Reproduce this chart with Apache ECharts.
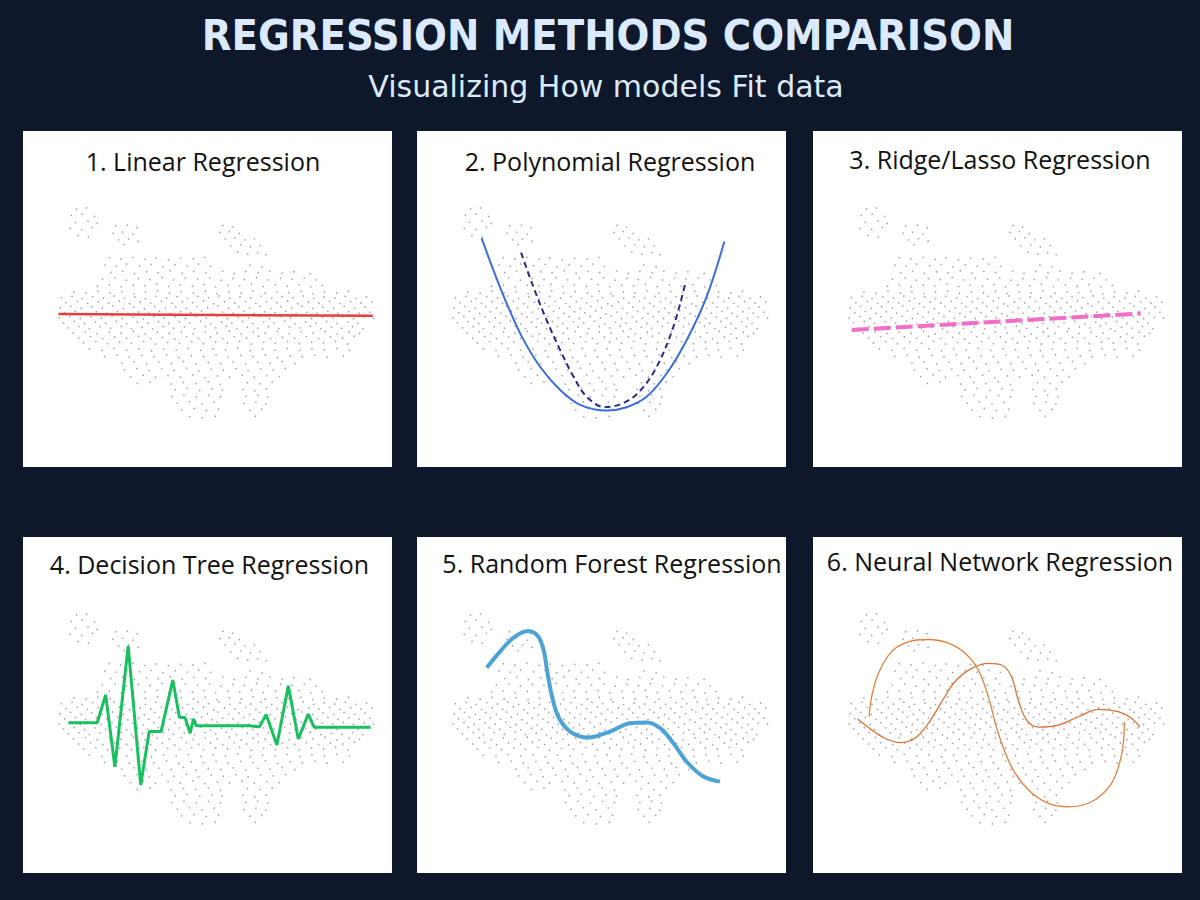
<!DOCTYPE html>
<html>
<head>
<meta charset="utf-8">
<title>Regression Methods Comparison</title>
<script src="https://cdn.jsdelivr.net/npm/echarts@6/dist/echarts.min.js"></script>
<style>
  html, body { margin: 0; padding: 0; background: #0f172a; }
  #main { width: 1200px; height: 900px; }
</style>
</head>
<body>
<div id="main"></div>
<script>
// titles of the six small panels
const panelTitles = [
  '1. Linear Regression',
  '2. Polynomial Regression',
  '3. Ridge/Lasso Regression',
  '4. Decision Tree Regression',
  '5. Random Forest Regression',
  '6. Neural Network Regression'
]

// the noisy samples (x, y in 0..100 panel units), same cloud in every panel
const cloud = [
  [14.5,76.8],[17.2,77.1],[13.1,74.9],[16.0,75.3],[19.4,74.6],[14.2,72.8],[17.6,73.2],[20.1,72.5],[12.8,71.0],[15.9,70.7],[18.8,71.3],[14.9,68.9],[17.7,68.4],
  [25.1,71.8],[28.3,72.0],[30.9,71.2],[24.4,69.6],[27.0,69.9],[29.8,69.3],[25.9,67.6],[28.6,67.9],[31.2,67.2],[27.4,66.2],
  [54.2,71.9],[56.8,71.4],[53.4,69.8],[55.9,70.1],[58.6,69.5],[54.8,67.9],[57.4,68.2],[60.1,67.6],[62.7,67.9],[56.3,65.8],[59.0,66.1],[61.6,65.5],[64.3,65.9],[58.2,63.9],[60.9,63.4],[63.6,63.8],[65.9,63.2],
  [23.4,62.3],[26.5,61.9],[29.8,62.4],[33.1,61.8],[36.0,62.2],[39.4,61.7],[42.7,62.1],[46.1,61.9],[49.3,62.4],
  [22.2,60.1],[25.3,59.8],[28.1,60.4],[31.6,59.9],[34.7,60.3],[37.9,59.6],[41.2,60.2],[44.5,59.8],[47.6,60.4],[50.8,59.7],[61.5,60.1],[64.8,59.6],
  [23.8,57.9],[27.0,58.3],[30.2,57.6],[33.5,58.1],[36.6,57.8],[39.9,58.4],[43.1,57.7],[46.3,58.2],[49.5,57.9],[54.1,58.3],[57.2,57.6],[60.4,58.2],[63.7,57.8],[66.9,58.3],[70.2,57.7],[73.4,58.1],[77.8,57.6],
  [21.5,55.9],[24.9,56.3],[28.0,55.6],[31.3,56.1],[34.4,55.8],[37.7,56.4],[40.8,55.7],[44.0,56.2],[47.3,55.9],[50.6,56.3],[53.7,55.6],[56.9,56.1],[60.0,55.8],[63.3,56.4],[66.5,55.7],[69.8,56.2],[72.9,55.9],[76.2,56.3],[79.4,55.7],
  [20.2,53.8],[23.4,54.2],[26.6,53.6],[29.9,54.1],[33.0,53.9],[36.3,54.4],[39.5,53.7],[42.6,54.2],[45.9,53.8],[49.1,54.3],[52.2,53.6],[55.5,54.1],[58.7,53.9],[61.9,54.4],[65.1,53.7],[68.4,54.2],[71.6,53.8],[74.8,54.3],[78.0,53.6],[81.1,54.0],
  [13.8,52.1],[17.1,51.7],[20.3,52.3],[23.6,51.8],[26.8,52.2],[30.1,51.6],[33.2,52.0],[36.5,52.4],[39.7,51.7],[42.9,52.2],[46.2,51.8],[49.4,52.3],[52.6,51.6],[55.9,52.1],[59.1,51.8],[62.3,52.4],[65.6,51.7],[68.8,52.2],[72.0,51.9],[75.3,52.3],[78.5,51.6],[81.7,52.1],[85.0,51.8],[88.2,52.3],
  [10.4,50.4],[13.3,50.8],[16.0,50.2],[18.9,50.7],[21.8,50.3],[24.6,50.9],[27.5,50.2],[30.3,50.6],[33.2,50.1],[36.0,50.8],[38.9,50.3],[41.7,50.7],[44.6,50.2],[47.4,50.8],[50.3,50.4],[53.1,50.9],[56.0,50.2],[58.8,50.6],[61.7,50.3],[64.5,50.8],[67.4,50.2],[70.2,50.7],[73.1,50.4],[75.9,50.9],[78.8,50.2],[81.6,50.6],[84.5,50.3],[87.3,50.8],[90.2,50.2],[93.1,50.6],
  [11.6,48.9],[14.7,49.3],[17.5,48.7],[20.4,49.2],[23.2,48.8],[26.1,49.4],[28.9,48.6],[31.8,49.1],[34.6,48.8],[37.5,49.3],[40.3,48.7],[43.2,49.2],[46.0,48.9],[48.9,49.4],[51.7,48.6],[54.6,49.1],[57.4,48.8],[60.3,49.3],[63.1,48.7],[66.0,49.2],[68.8,48.9],[71.7,49.4],[74.5,48.6],[77.4,49.1],[80.2,48.8],[83.1,49.3],[85.9,48.7],[88.8,49.2],[91.6,48.8],[94.5,49.1],
  [10.1,47.4],[12.9,47.8],[15.8,47.2],[18.6,47.7],[21.5,47.3],[24.3,47.9],[27.2,47.2],[30.0,47.6],[32.9,47.1],[35.7,47.8],[38.6,47.3],[41.4,47.7],[44.3,47.2],[47.1,47.8],[50.0,47.4],[52.8,47.9],[55.7,47.2],[58.5,47.6],[61.4,47.3],[64.2,47.8],[67.1,47.2],[69.9,47.7],[72.8,47.4],[75.6,47.9],[78.5,47.2],[81.3,47.6],[84.2,47.3],[87.0,47.8],[89.9,47.2],[92.7,47.6],
  [11.3,45.9],[14.2,46.3],[17.0,45.7],[19.9,46.2],[22.7,45.8],[25.6,46.4],[28.4,45.6],[31.3,46.1],[34.1,45.8],[37.0,46.3],[39.8,45.7],[42.7,46.2],[45.5,45.9],[48.4,46.4],[51.2,45.6],[54.1,46.1],[56.9,45.8],[59.8,46.3],[62.6,45.7],[65.5,46.2],[68.3,45.9],[71.2,46.4],[74.0,45.6],[76.9,46.1],[79.7,45.8],[82.6,46.3],[85.4,45.7],[88.3,46.2],[91.1,45.8],[94.0,46.1],
  [9.8,44.4],[12.7,44.8],[15.5,44.2],[18.4,44.7],[21.2,44.3],[24.1,44.9],[26.9,44.2],[29.8,44.6],[32.6,44.1],[35.5,44.8],[38.3,44.3],[41.2,44.7],[44.0,44.2],[46.9,44.8],[49.7,44.4],[52.6,44.9],[55.4,44.2],[58.3,44.6],[61.1,44.3],[64.0,44.8],[66.8,44.2],[69.7,44.7],[72.5,44.4],[75.4,44.9],[78.2,44.2],[81.1,44.6],[83.9,44.3],[86.8,44.8],[89.6,44.2],[92.5,44.6],[95.0,44.3],
  [11.0,42.9],[13.9,43.3],[16.7,42.7],[19.6,43.2],[22.4,42.8],[25.3,43.4],[28.1,42.6],[31.0,43.1],[33.8,42.8],[36.7,43.3],[39.5,42.7],[42.4,43.2],[45.2,42.9],[48.1,43.4],[50.9,42.6],[53.8,43.1],[56.6,42.8],[59.5,43.3],[62.3,42.7],[65.2,43.2],[68.0,42.9],[70.9,43.4],[73.7,42.6],[76.6,43.1],[79.4,42.8],[82.3,43.3],[85.1,42.7],[88.0,43.2],[90.8,42.8],
  [12.3,41.4],[15.2,41.8],[18.0,41.2],[20.9,41.7],[23.7,41.3],[26.6,41.9],[29.4,41.2],[32.3,41.6],[35.1,41.1],[38.0,41.8],[40.8,41.3],[43.7,41.7],[46.5,41.2],[49.4,41.8],[52.2,41.4],[55.1,41.9],[57.9,41.2],[60.8,41.6],[63.6,41.3],[66.5,41.8],[69.3,41.2],[72.2,41.7],[75.0,41.4],[77.9,41.9],[80.7,41.2],[83.6,41.6],[86.4,41.3],[89.3,41.8],[92.1,41.2],
  [13.6,39.9],[16.9,40.3],[20.1,39.7],[23.4,40.2],[26.6,39.8],[29.9,40.4],[33.1,39.6],[36.4,40.1],[39.6,39.8],[42.9,40.3],[46.1,39.7],[49.4,40.2],[52.6,39.9],[55.9,40.4],[59.1,39.6],[62.4,40.1],[65.6,39.8],[68.9,40.3],[72.1,39.7],[75.4,40.2],[78.6,39.9],[81.9,40.4],[85.1,39.6],[88.4,40.1],[91.2,39.8],
  [15.1,38.4],[18.3,38.8],[21.6,38.2],[24.8,38.7],[28.1,38.3],[31.3,38.9],[34.6,38.2],[37.8,38.6],[41.1,38.1],[44.3,38.8],[47.6,38.3],[50.8,38.7],[54.1,38.2],[57.3,38.8],[60.6,38.4],[63.8,38.9],[67.1,38.2],[70.3,38.6],[73.6,38.3],[76.8,38.8],[80.1,38.2],[83.3,38.7],[86.6,38.4],[89.8,38.9],
  [16.4,36.9],[19.7,37.3],[22.9,36.7],[26.2,37.2],[29.4,36.8],[32.7,37.4],[35.9,36.6],[39.2,37.1],[42.4,36.8],[45.7,37.3],[48.9,36.7],[52.2,37.2],[55.4,36.9],[58.7,37.4],[61.9,36.6],[65.2,37.1],[68.4,36.8],[71.7,37.3],[74.9,36.7],[78.2,37.2],[81.4,36.9],[84.7,37.4],[88.0,36.6],
  [18.0,35.1],[21.4,34.7],[24.7,35.3],[28.1,34.8],[31.4,35.2],[34.8,34.6],[38.1,35.1],[41.5,34.8],[44.8,35.3],[48.2,34.7],[51.5,35.2],[54.9,34.9],[58.2,35.4],[61.6,34.6],[64.9,35.1],[68.3,34.8],[71.6,35.3],[75.0,34.7],[78.3,35.2],[81.7,34.9],[85.0,35.3],[88.4,34.8],
  [22.1,32.9],[25.5,33.3],[28.8,32.7],[32.2,33.2],[35.5,32.8],[38.9,33.4],[42.2,32.6],[45.6,33.1],[48.9,32.8],[52.3,33.3],[55.6,32.7],[59.0,33.2],[62.3,32.9],[65.7,33.4],[69.0,32.6],[72.4,33.1],[75.7,32.8],[79.1,33.3],[82.4,32.7],[86.8,33.0],
  [26.8,30.9],[30.1,31.3],[33.5,30.7],[36.8,31.2],[40.2,30.8],[43.5,31.4],[46.9,30.6],[50.2,31.1],[53.6,30.8],[56.9,31.3],[60.3,30.7],[63.6,31.2],[67.0,30.9],[70.3,31.4],[73.7,30.8],
  [27.5,28.9],[30.9,29.3],[34.2,28.7],[37.6,29.2],[40.9,28.8],[44.3,29.4],[47.6,28.6],[51.0,29.1],[54.3,28.8],[57.7,29.3],[61.0,28.7],[64.4,29.2],[67.7,28.9],[71.1,29.3],
  [29.2,26.9],[32.6,27.3],[35.9,26.7],[39.3,27.2],[42.6,26.8],[46.0,27.4],[49.3,26.6],[52.7,27.1],[56.0,26.8],[59.4,27.3],[62.7,26.7],[66.1,27.2],[69.4,26.9],
  [31.0,24.9],[34.4,25.3],[40.1,24.7],[43.5,25.2],[46.8,24.8],[50.2,25.4],[53.5,24.6],[60.8,25.1],[64.2,24.8],[67.5,25.3],
  [41.2,23.0],[44.5,23.4],[47.9,22.8],[51.2,23.3],[54.0,22.9],[40.3,21.0],[43.6,21.4],[47.0,20.8],[50.3,21.3],[53.5,20.9],[41.8,19.0],[45.1,19.4],[48.5,18.8],[51.8,19.3],[43.0,17.0],[46.4,17.4],[49.7,16.8],[53.0,17.2],[45.2,15.0],[48.6,14.6],[52.1,15.1],
  [59.6,23.1],[62.8,22.7],[65.9,23.2],[60.4,21.0],[63.6,21.4],[66.3,20.8],[59.9,18.9],[63.1,19.3],[65.8,18.7],[61.5,16.9],[64.7,17.2],[62.9,15.1]
]

// fitted curves, one or two per panel
const linearFit = [[9.6,45.5],[94.8,45.0]]
const polyFit = [[17.5,68.1],[20.7,58.6],[24.3,48.7],[28.4,38.8],[33.3,29.9],[38.8,22.9],[44.2,18.5],[51.4,16.8],[56.8,17.8],[62.2,20.9],[67.7,27.9],[73.1,37.8],[78.5,50.7],[83.3,67.1]]
const polyTrue = [[28.2,63.8],[31.5,53.7],[35.1,43.8],[38.8,34.8],[42.4,26.9],[46.0,20.9],[50.9,17.8],[55.9,19.0],[60.4,22.6],[65.0,29.9],[69.5,41.8],[72.6,54.2]]
const ridgeFit = [[10.5,40.8],[88.8,45.7]]
const treeFit = [[12.3,44.7],[20.1,44.7],[22.4,53.0],[24.9,31.6],[28.5,67.6],[31.9,26.2],[34.2,42.1],[37.4,42.1],[40.6,57.4],[42.4,46.3],[43.9,46.3],[45.3,41.6],[46.2,45.9],[46.9,43.8],[61.5,43.8],[64.1,43.5],[65.9,47.2],[68.8,38.1],[71.9,55.7],[74.6,39.9],[77.3,47.3],[78.9,43.4],[94.2,43.4]]
const forestFit = [[18.9,61.1],[22.5,65.9],[26.1,70.0],[30.2,72.0],[32.9,70.3],[34.4,65.9],[35.3,59.9],[36.5,53.0],[38.3,46.5],[41.5,42.1],[46.4,40.3],[52.3,42.1],[57.7,44.6],[62.2,44.8],[65.9,43.1],[69.5,38.6],[73.1,33.1],[77.6,28.7],[82.1,27.2]]
const nnFitA = [[15.2,46.5],[15.9,52.5],[17.7,59.4],[21.3,65.9],[25.8,68.8],[31.3,69.5],[36.7,68.4],[41.2,65.4],[44.8,60.4],[47.5,52.5],[50.2,41.6],[53.8,31.6],[58.4,24.7],[63.8,20.7],[69.2,19.7],[75.5,21.2],[80.9,26.7],[83.7,35.6],[84.4,45.0]]
const nnFitB = [[12.1,45.8],[15.9,42.6],[19.5,40.1],[23.6,38.8],[27.6,40.1],[31.3,44.6],[34.9,51.0],[38.5,57.0],[43.0,60.9],[47.5,62.4],[51.1,61.9],[53.8,58.4],[55.6,51.5],[57.9,45.5],[61.1,43.4],[66.5,44.0],[71.9,46.5],[77.3,48.7],[82.7,48.0],[86.4,46.0],[88.6,43.4]]

const chart = echarts.init(document.getElementById('main'), null, { renderer: 'svg' })

const lefts = [23, 417, 813]
const tops = [131, 537]
const panelW = 369, panelH = 336
// title centre (x, y) for each panel
const titlePos = [[203,161],[610,161],[1000,158.6],[209.5,564.3],[612,563],[1000,561.3]]

const fits = [
  [{ data: linearFit, color: '#e63e3e', width: 2.5 }],
  [{ data: polyFit, color: '#3c6edb', width: 2, smooth: 0.35 },
   { data: polyTrue, color: '#2a2a86', width: 2, smooth: 0.35, type: [6, 4] }],
  [{ data: ridgeFit, color: '#f06dc8', width: 4, type: [17, 5] }],
  [{ data: treeFit, color: '#18c060', width: 3 }],
  [{ data: forestFit, color: '#4da3d4', width: 4, smooth: 0.35 }],
  [{ data: nnFitA, color: '#e0813f', width: 1.3, smooth: 0.35 },
   { data: nnFitB, color: '#d9733a', width: 1.3, smooth: 0.35 }]
]

let grid = [], xAxis = [], yAxis = [], series = []
let graphic = [
  {
    type: 'text', x: 608, y: 35,
    style: { text: 'REGRESSION METHODS COMPARISON', fill: '#dbeafe', align: 'center', verticalAlign: 'middle',
      font: 'bold 43px "DejaVu Sans Condensed", "Liberation Sans Narrow", sans-serif' }
  },
  {
    type: 'text', x: 606, y: 86,
    style: { text: 'Visualizing How models Fit data', fill: '#dbeafe', align: 'center', verticalAlign: 'middle',
      font: '30px "DejaVu Sans", sans-serif' }
  }
]

panelTitles.forEach((t, i) => {
  grid.push({
    left: lefts[i % 3], top: tops[Math.floor(i / 3)], width: panelW, height: panelH,
    show: true, backgroundColor: '#ffffff', borderWidth: 0
  })
  xAxis.push({ type: 'value', gridIndex: i, min: 0, max: 100, show: false })
  yAxis.push({ type: 'value', gridIndex: i, min: 0, max: 100, show: false })
  series.push({
    type: 'scatter', xAxisIndex: i, yAxisIndex: i, data: cloud,
    symbolSize: 1.6, itemStyle: { color: '#7a7a7a', opacity: 0.7 }, silent: true
  })
  fits[i].forEach(f => {
    series.push({
      type: 'line', xAxisIndex: i, yAxisIndex: i, data: f.data, z: 3,
      showSymbol: false, smooth: f.smooth || false, silent: true,
      lineStyle: { color: f.color, width: f.width, type: f.type || 'solid', cap: 'butt' }
    })
  })
  graphic.push({
    type: 'text', x: titlePos[i][0], y: titlePos[i][1], z: 10,
    style: { text: t, fill: '#111111', align: 'center', verticalAlign: 'middle',
      font: '25px "Open Sans", "Noto Sans", sans-serif' }
  })
})

chart.setOption({
  backgroundColor: '#0f172a',
  animation: false,
  grid: grid,
  xAxis: xAxis,
  yAxis: yAxis,
  series: series,
  graphic: graphic
})
</script>
</body>
</html>
